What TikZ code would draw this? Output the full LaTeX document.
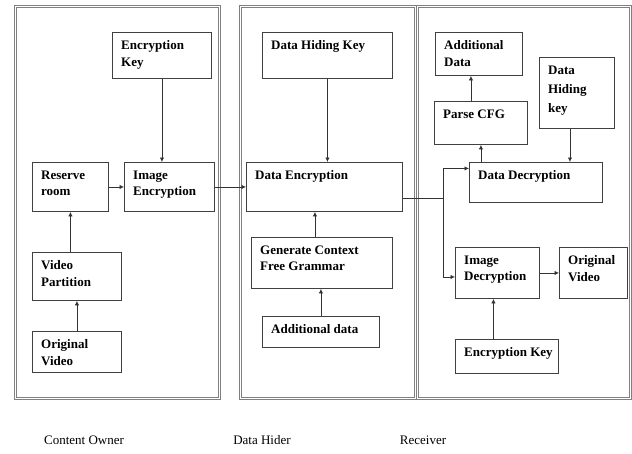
\documentclass[tikz,border=0pt]{standalone}
\usepackage{fontspec}
\setmainfont{Liberation Serif}
\usetikzlibrary{arrows.meta}
\usetikzlibrary{calc}
\tikzset{
	>={Latex[length=4.5pt,width=4.5pt]},
	panel/.style={draw=black!50, double=white, double distance=1.3pt, line width=0.6pt, anchor=north west, inner sep=0pt},
	box/.style={draw=black!75, line width=0.9pt, anchor=north west, inner sep=0pt},
	boxtext/.style={anchor=north west, inner xsep=9pt, inner ysep=8.5pt, align=left, font=\fontsize{13}{16.5}\selectfont\bfseries},
	flow/.style={black!80, line width=0.8pt, ->},
	caption/.style={font=\fontsize{13}{15}\selectfont},
}

\begin{document}
\begin{tikzpicture}[x=1pt,y=-1pt]
			\useasboundingbox[fill=white] (0,0) rectangle (632,453);
			
			% the three parties
			\node[panel, minimum width=204, minimum height=392] (owner) at (15,6) {};
			\node[panel, minimum width=175, minimum height=392] (hider) at (240,6) {};
			\node[panel, minimum width=213, minimum height=392] (receiver) at (417,6) {};
			
			% content owner
			\node[box, minimum width=99, minimum height=46, label={[boxtext]north west:{Encryption\\Key}}] (enckey) at (112,32) {};
			\node[box, minimum width=76, minimum height=49, label={[boxtext]north west:{Reserve\\room}}] (resroom) at (32,162) {};
			\node[box, minimum width=90, minimum height=49, label={[boxtext]north west:{Image\\Encryption}}] (imgenc) at (124,162) {};
			\node[box, minimum width=89, minimum height=48, label={[boxtext]north west:{Video\\Partition}}] (vidpart) at (32,252) {};
			\node[box, minimum width=89, minimum height=41, label={[boxtext]north west:{Original\\Video}}] (origvid) at (32,331) {};
			
			% data hider
			\node[box, minimum width=130, minimum height=46, label={[boxtext]north west:{Data Hiding Key}}] (hidekey) at (262,32) {};
			\node[box, minimum width=156, minimum height=49, label={[boxtext]north west:{Data Encryption}}] (dataenc) at (246,162) {};
			\node[box, minimum width=141, minimum height=51, label={[boxtext]north west:{Generate Context\\Free Grammar}}] (gencfg) at (251,237) {};
			\node[box, minimum width=117, minimum height=31, label={[boxtext]north west:{Additional data}}] (adddata) at (262,316) {};
			
			% receiver
			\node[box, minimum width=87, minimum height=43, label={[boxtext]north west:{Additional\\Data}}] (extdata) at (435,32) {};
			\node[box, minimum width=93, minimum height=43, label={[boxtext]north west:{Parse CFG}}] (parsecfg) at (434,101) {};
			\node[box, minimum width=75, minimum height=71, label={[boxtext, font=\fontsize{13}{19}\selectfont\bfseries]north west:{Data\\Hiding\\key}}] (rhidekey) at (539,57) {};
			\node[box, minimum width=133, minimum height=40, label={[boxtext]north west:{Data Decryption}}] (datadec) at (469,162) {};
			\node[box, minimum width=84, minimum height=51, label={[boxtext]north west:{Image\\Decryption}}] (imgdec) at (455,247) {};
			\node[box, minimum width=68, minimum height=51, label={[boxtext]north west:{Original\\Video}}] (recvid) at (559,247) {};
			\node[box, minimum width=103, minimum height=34, label={[boxtext]north west:{Encryption Key}}] (renckey) at (455,339) {};
			
			% connectors
			\draw[flow] (enckey.south) -- (enckey.south |- imgenc.north);
			\draw[flow] (resroom) -- (imgenc);
			\draw[flow] (resroom.south |- vidpart.north) -- (resroom.south);
			\draw[flow] (origvid) -- (vidpart);
			\draw[flow] (imgenc) -- (dataenc.west |- imgenc);
			\draw[flow] (hidekey.south) -- (hidekey.south |- dataenc.north);
			\draw[flow] ([xshift=-7pt]gencfg.north) -- ([xshift=-7pt]gencfg.north |- dataenc.south);
			\draw[flow] (adddata) -- (adddata |- gencfg.south);
			
			\coordinate (split) at (443,198);
			\draw[black!80, line width=0.8pt] (dataenc.east |- split) -- (split);
			\draw[flow] (split) |- ([yshift=14pt]datadec.west);
			\draw[flow] (split) |- ([yshift=-4pt]imgdec.west);
			\draw[flow] ([xshift=-10pt]parsecfg.north) -- ([xshift=-10pt]parsecfg.north |- extdata.south);
			\draw[flow] (parsecfg.south |- datadec.north) -- (parsecfg.south);
			\draw[flow] ([xshift=-7pt]rhidekey.south) -- ([xshift=-7pt]rhidekey.south |- datadec.north);
			\draw[flow] (imgdec.east |- recvid) -- (recvid.west);
			\draw[flow] ([xshift=-4pt]imgdec.south |- renckey.north) -- ([xshift=-4pt]imgdec.south);
			
			% party names
			\node[caption] (ownername) at (84,440) {Content Owner};
			\node[caption] (hidername) at (262,440) {Data Hider};
			\node[caption] (recname) at (423,440) {Receiver};
		\end{tikzpicture}
\end{document}
